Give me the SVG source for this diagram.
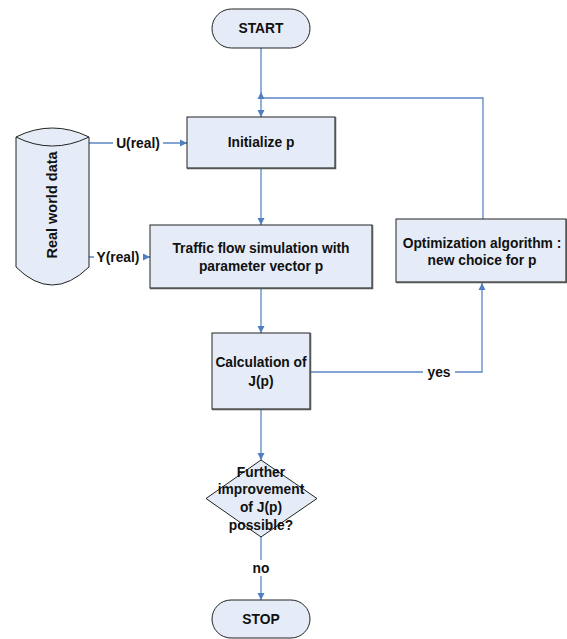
<svg xmlns="http://www.w3.org/2000/svg" width="567" height="639" viewBox="0 0 567 639">
<style>
.box{fill:#E6ECF7;stroke:#222;stroke-width:1}
.sh{fill:none;stroke:#555;stroke-width:1.5}
.t{font-family:"Liberation Sans",Arial,sans-serif;font-weight:bold;font-size:13.8px;fill:#111;text-anchor:middle;dominant-baseline:central}
.c{fill:none;stroke:#5B87C5;stroke-width:1.3}
.lbl{fill:#fff}
</style>
<defs>
<marker id="ah" markerWidth="8" markerHeight="8" refX="7" refY="4" orient="auto" markerUnits="userSpaceOnUse">
<path d="M0,0.5 L7,4 L0,7.5 Z" fill="#4F7FC0"/>
</marker>
</defs>
<rect width="567" height="639" fill="#fff"/>
<g id="connectors">
<line class="c" x1="261" y1="48" x2="261" y2="117" marker-end="url(#ah)"/>
<polyline class="c" points="483,219 483,98 261,98" />
<path d="M257.5,99 L261,92 L264.5,99 Z" fill="#4F7FC0"/>
<line class="c" x1="89" y1="143" x2="187" y2="143" marker-end="url(#ah)"/>
<line class="c" x1="89" y1="257" x2="150" y2="257" marker-end="url(#ah)"/>
<line class="c" x1="261" y1="168" x2="261" y2="225" marker-end="url(#ah)"/>
<line class="c" x1="261" y1="288" x2="261" y2="333" marker-end="url(#ah)"/>
<polyline class="c" points="310,372 482,372 482,283" marker-end="url(#ah)"/>
<line class="c" x1="261" y1="409" x2="261" y2="460" marker-end="url(#ah)"/>
<line class="c" x1="261" y1="537" x2="261" y2="600" marker-end="url(#ah)"/>
<rect class="lbl" x="113" y="135" width="50" height="16"/>
<text class="t" x="138" y="143">U(real)</text>
<rect class="lbl" x="94" y="249" width="49" height="16"/>
<text class="t" x="118" y="257">Y(real)</text>
<rect class="lbl" x="423" y="365" width="32" height="15"/>
<text class="t" x="439" y="372">yes</text>
<rect class="lbl" x="249" y="560" width="24" height="16"/>
<text class="t" x="261" y="568">no</text>
</g>
<g id="start">
<rect class="box" x="212" y="9" width="98" height="39" rx="19.5"/>
<text class="t" x="261" y="28.5">START</text>
</g>
<g id="data">
<path class="box" d="M16,137 Q52,119 89,137 L89,267 Q52,303 16,267 Z"/>
<path class="box" d="M16,137 Q52,155 89,137"/>
<text class="t" transform="translate(52,205) rotate(-90)" x="0" y="0" style="font-size:14.5px">Real world data</text>
</g>
<g id="init">
<rect class="box" x="187" y="117" width="148" height="51"/>
<polyline class="sh" points="335.5,117 335.5,168.5 187,168.5"/>
<text class="t" x="261" y="142">Initialize p</text>
</g>
<g id="sim">
<rect class="box" x="150" y="225" width="222" height="63"/>
<polyline class="sh" points="372.5,225 372.5,288.5 150,288.5"/>
<text class="t" x="261" y="248">Traffic flow simulation with</text>
<text class="t" x="261" y="266">parameter vector p</text>
</g>
<g id="calc">
<rect class="box" x="212" y="333" width="98" height="76"/>
<polyline class="sh" points="310.5,333 310.5,409.5 212,409.5"/>
<text class="t" x="261" y="362">Calculation of</text>
<text class="t" x="261" y="381">J(p)</text>
</g>
<g id="opt">
<rect class="box" x="396" y="219" width="170" height="63"/>
<polyline class="sh" points="566.5,219 566.5,282.5 396,282.5"/>
<text class="t" x="482" y="243">Optimization algorithm :</text>
<text class="t" x="482" y="260">new choice for p</text>
</g>
<g id="decision">
<polygon class="box" points="261,460 317,498.5 261,537 206,498.5"/>
<text class="t" x="261" y="472">Further</text>
<text class="t" x="261" y="489">improvement</text>
<text class="t" x="261" y="507">of J(p)</text>
<text class="t" x="261" y="525">possible?</text>
</g>
<g id="stop">
<rect class="box" x="212" y="600" width="98" height="38" rx="19"/>
<text class="t" x="261" y="619">STOP</text>
</g>
</svg>
